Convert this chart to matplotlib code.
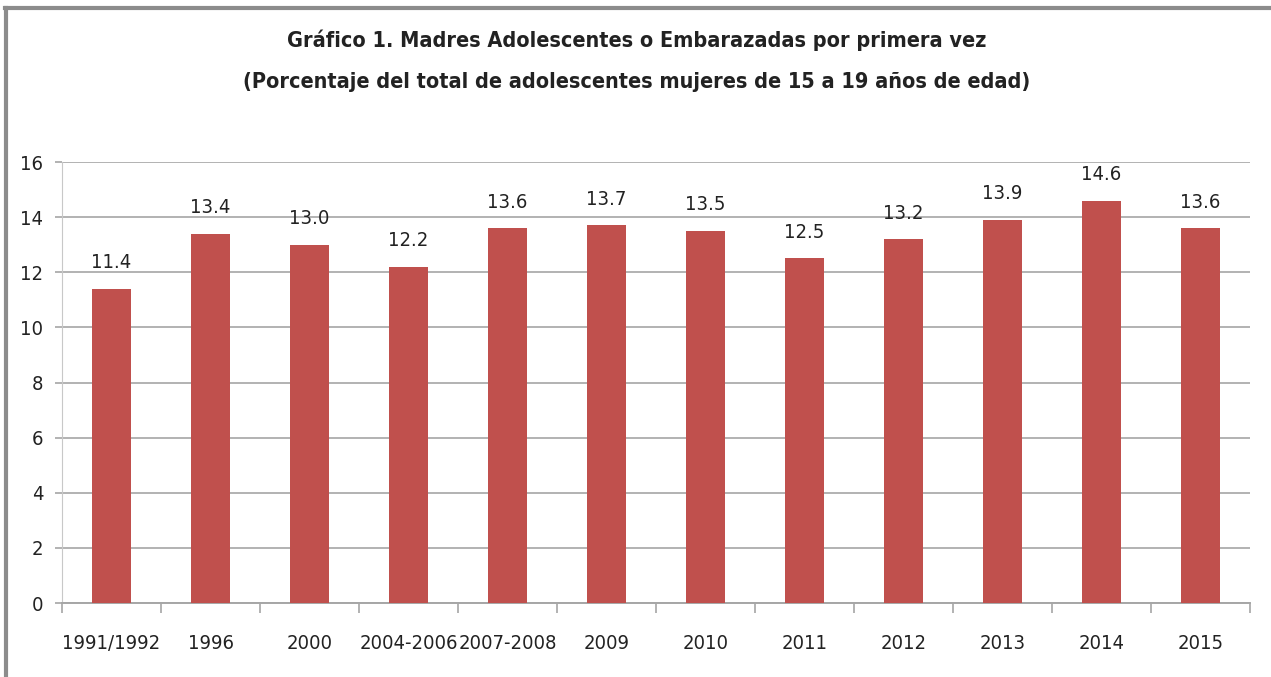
import matplotlib
matplotlib.use('Agg')
import matplotlib.pyplot as plt
from matplotlib.lines import Line2D

# Data
periods = ['1991/1992', '1996', '2000', '2004-2006', '2007-2008', '2009',
           '2010', '2011', '2012', '2013', '2014', '2015']
values = [11.4, 13.4, 13.0, 12.2, 13.6, 13.7, 13.5, 12.5, 13.2, 13.9, 14.6, 13.6]
y_ticks = [0, 2, 4, 6, 8, 10, 12, 14, 16]

title_1 = 'Gráfico 1. Madres Adolescentes o Embarazadas por primera vez'
title_2 = '(Porcentaje del total de adolescentes mujeres de 15 a 19 años de edad)'

plt.rcParams['font.family'] = ['DejaVu Sans']
plt.rcParams['font.stretch'] = 'condensed'

fig = plt.figure(figsize=(12.71, 6.77), dpi=100)
ax = fig.add_axes([0.0488, 0.1093, 0.9347, 0.6514])

x = list(range(len(periods)))
ax.bar(x, values, width=0.4, color='#C0504D', zorder=3)

for xi, v in zip(x, values):
    ax.text(xi, v + 0.6, f'{v:.1f}', ha='center', va='bottom', fontsize=14.5, color='#222222')

ax.set_xlim(-0.5, len(periods) - 0.5)
ax.set_ylim(0, 16)
ax.set_yticks(y_ticks)
ax.set_yticklabels([str(t) for t in y_ticks], fontsize=14.5, color='#222222')
ax.yaxis.grid(True, color='#a6a6a6', linewidth=1.2, zorder=0)
ax.tick_params(axis='y', length=5, color='#a6a6a6', width=1.2, pad=8.5)

# category labels centred, ticks on boundaries
ax.set_xticks(x)
ax.set_xticklabels(periods, fontsize=14.5, color='#222222')
ax.tick_params(axis='x', length=0, pad=22)
ax.set_xticks([i - 0.5 for i in range(len(periods) + 1)], minor=True)
ax.tick_params(axis='x', which='minor', length=7, color='#a6a6a6', width=1.2)

for s in ['top', 'right']:
    ax.spines[s].set_visible(False)
ax.spines['left'].set_color('#c8c8c8')
ax.spines['bottom'].set_color('#a6a6a6')
ax.spines['bottom'].set_linewidth(1.4)

fig.text(0.501, 0.941, title_1, ha='center', va='center', fontsize=15.5, fontweight='bold', color='#222222')
fig.text(0.501, 0.879, title_2, ha='center', va='center', fontsize=15.5, fontweight='bold', color='#222222')

# outer chart border (left and top edges)
fig.add_artist(Line2D([0.005, 0.005], [0.0, 0.988], color='#8c8c8c', linewidth=3, transform=fig.transFigure))
fig.add_artist(Line2D([0.004, 1.0], [0.988, 0.988], color='#8c8c8c', linewidth=3, transform=fig.transFigure))

fig.savefig('out.png', dpi=100)
